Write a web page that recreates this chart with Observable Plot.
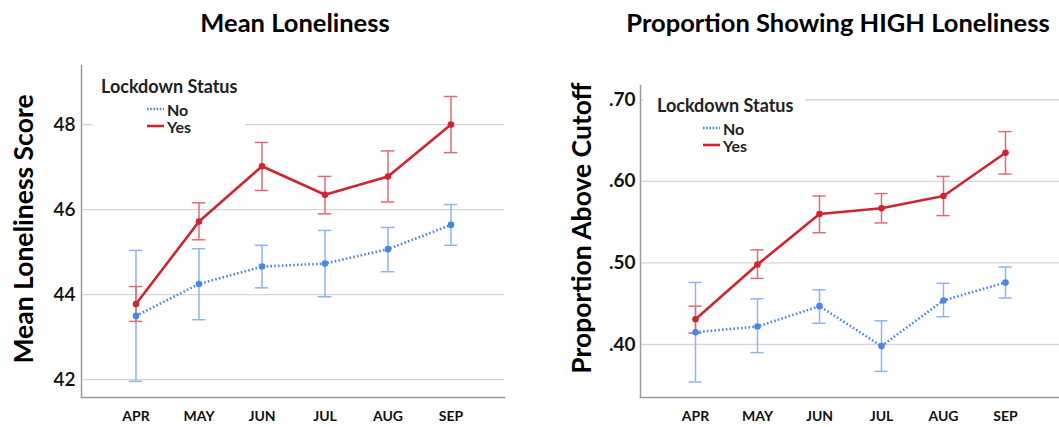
<!DOCTYPE html>
<html><head><meta charset="utf-8">
<script src="https://cdn.jsdelivr.net/npm/d3@7"></script>
<script src="https://cdn.jsdelivr.net/npm/@observablehq/plot@0.6"></script>
<style>
body{margin:0;background:#fff;font-family:Lato,sans-serif;}
#wrap{position:relative;width:1059px;height:427px;overflow:hidden;background:#fff;}
.abs{position:absolute;}
.title{font-weight:700;font-size:25.5px;color:#000;white-space:nowrap;transform:translate(-50%,-50%);}
.ylab{font-weight:700;font-size:26.5px;color:#000;white-space:nowrap;transform:translate(-50%,-50%) rotate(-90deg);}
.legend{background:#fff;font-weight:700;color:#222;}
.legend .lt{position:absolute;font-size:18px;white-space:nowrap;transform:translateY(-50%);}
.legend .le{position:absolute;font-size:16px;white-space:nowrap;transform:translateY(-50%);}
.legend svg{position:absolute;overflow:visible;}
</style></head><body><div id="wrap"></div>
<script>
// ---- data ----
const months = ["APR","MAY","JUN","JUL","AUG","SEP"];
const statuses = ["No","Yes"];

// Mean Loneliness Score
const meanNo   = [43.50, 44.25, 44.66, 44.73, 45.07, 45.64];
const meanNoLo = [41.96, 43.41, 44.16, 43.95, 44.54, 45.16];
const meanNoHi = [45.04, 45.08, 45.16, 45.51, 45.58, 46.12];
const meanYes   = [43.78, 45.72, 47.02, 46.35, 46.78, 48.00];
const meanYesLo = [43.37, 45.29, 46.45, 45.90, 46.18, 47.34];
const meanYesHi = [44.19, 46.16, 47.58, 46.78, 47.38, 48.66];
const meanTicks = [42, 44, 46, 48];

// Proportion above cutoff
const propNo   = [0.415, 0.422, 0.447, 0.398, 0.454, 0.476];
const propNoLo = [0.354, 0.390, 0.426, 0.367, 0.434, 0.457];
const propNoHi = [0.476, 0.456, 0.467, 0.429, 0.475, 0.495];
const propYes   = [0.431, 0.498, 0.560, 0.567, 0.582, 0.635];
const propYesLo = [0.414, 0.481, 0.537, 0.549, 0.558, 0.609];
const propYesHi = [0.447, 0.516, 0.582, 0.585, 0.606, 0.661];
const propTicks = [0.40, 0.50, 0.60, 0.70];

const titles = ["Mean Loneliness", "Proportion Showing HIGH Loneliness"];
const yLabels = ["Mean Loneliness Score", "Proportion Above Cutoff"];
const legendTitle = "Lockdown Status";

const colors = {No: "#4a86e6", Yes: "#cf2530"};
const errColors = {No: "#8db5f0", Yes: "#e26a76"};

function rowsOf(no, noLo, noHi, yes, yesLo, yesHi) {
  const r = [];
  months.forEach((m, i) => {
    r.push({month: m, status: "No", value: no[i], lo: noLo[i], hi: noHi[i]});
    r.push({month: m, status: "Yes", value: yes[i], lo: yesLo[i], hi: yesHi[i]});
  });
  return r;
}
const meanRows = rowsOf(meanNo, meanNoLo, meanNoHi, meanYes, meanYesLo, meanYesHi);
const propRows = rowsOf(propNo, propNoLo, propNoHi, propYes, propYesLo, propYesHi);

const outerPad = 0.33; // band scale, inner padding 0
const capWidth = 14;

function panel(rows, o) {
  const innerW = o.width - o.ml - o.mr;
  const step = innerW / (months.length + 2 * outerPad);
  const capInset = (step - capWidth) / 2;
  const marks = [
    Plot.gridY(o.ticks, {stroke: "#d6d6d6", strokeOpacity: 1, strokeWidth: 1.3}),
    Plot.axisY(o.ticks, {tickSize: 0, tickPadding: o.tickPad, fontSize: 19, fontWeight: o.tickWeight, tickFormat: o.fmt, label: null}),
    Plot.axisX({tickSize: 0, tickPadding: 14, fontSize: 14, fontWeight: 700, label: null}),
    Plot.frame({anchor: "left", stroke: "#9a9a9a", strokeWidth: 1.5}),
    Plot.frame({anchor: "bottom", stroke: "#9a9a9a", strokeWidth: 1.5})
  ];
  for (const s of statuses) {
    const d = rows.filter(r => r.status === s);
    marks.push(
      Plot.ruleX(d, {x: "month", y1: "lo", y2: "hi", stroke: errColors[s], strokeWidth: 1.5}),
      Plot.tickY(d, {x: "month", y: "lo", insetLeft: capInset, insetRight: capInset, stroke: errColors[s], strokeWidth: 1.5}),
      Plot.tickY(d, {x: "month", y: "hi", insetLeft: capInset, insetRight: capInset, stroke: errColors[s], strokeWidth: 1.5})
    );
  }
  for (const s of statuses) {
    const d = rows.filter(r => r.status === s);
    marks.push(
      Plot.line(d, {x: "month", y: "value", stroke: colors[s], strokeWidth: 2.6,
        strokeDasharray: s === "No" ? "1.6,2.2" : null, strokeLinecap: "butt"}),
      Plot.dot(d, {x: "month", y: "value", fill: colors[s], r: 3.3})
    );
  }
  return Plot.plot({
    width: o.width, height: o.height,
    marginLeft: o.ml, marginRight: o.mr, marginTop: o.mt, marginBottom: o.mb,
    style: {fontFamily: "Lato, sans-serif", background: "transparent", color: "#111", overflow: "visible"},
    x: {type: "band", domain: months, paddingInner: 0, paddingOuter: outerPad},
    y: {domain: o.domain},
    marks
  });
}

const wrap = document.getElementById("wrap");
function place(el, left, top) { el.classList.add("abs"); el.style.left = left + "px"; el.style.top = top + "px"; wrap.appendChild(el); return el; }

// left panel
const p1 = panel(meanRows, {width: 530, height: 377, ml: 81, mr: 26, mt: 15, mb: 30,
  domain: [41.58, 49.39], ticks: meanTicks, fmt: d3.format("d"), tickPad: 6, tickWeight: 600});
place(p1, 0, 50);
// right panel
const fmtProp = d => d3.format(".2f")(d).replace(/^0/, "");
const p2 = panel(propRows, {width: 529, height: 377, ml: 110, mr: 0, mt: 35, mb: 30,
  domain: [0.335, 0.7175], ticks: propTicks, fmt: fmtProp, tickPad: 5, tickWeight: 700});
place(p2, 530, 50);

// titles
function addDiv(cls, text, x, y) { const d = document.createElement("div"); d.className = cls; d.textContent = text; return place(d, x, y); }
addDiv("title", titles[0], 295, 22);
addDiv("title", titles[1], 838, 22);
addDiv("ylab", yLabels[0], 23, 229);
addDiv("ylab", yLabels[1], 581, 228);

// legends
function legend(left, top, w, h, titleX, titleY, swX, rowY) {
  const L = document.createElement("div");
  L.className = "legend";
  L.style.width = w + "px"; L.style.height = h + "px";
  place(L, left, top);
  const t = document.createElement("div"); t.className = "lt"; t.textContent = legendTitle;
  t.style.left = titleX + "px"; t.style.top = titleY + "px"; L.appendChild(t);
  statuses.forEach((s, i) => {
    const ns = "http://www.w3.org/2000/svg";
    const svg = document.createElementNS(ns, "svg");
    svg.setAttribute("width", 18); svg.setAttribute("height", 4);
    svg.style.left = swX + "px"; svg.style.top = (rowY[i] - 2) + "px";
    const ln = document.createElementNS(ns, "line");
    ln.setAttribute("x1", 0); ln.setAttribute("x2", 17); ln.setAttribute("y1", 2); ln.setAttribute("y2", 2);
    ln.setAttribute("stroke", colors[s]); ln.setAttribute("stroke-width", 2.6);
    if (s === "No") ln.setAttribute("stroke-dasharray", "1.6,1.6");
    svg.appendChild(ln); L.appendChild(svg);
    const e = document.createElement("div"); e.className = "le"; e.textContent = s;
    e.style.left = (swX + 20) + "px"; e.style.top = rowY[i] + "px"; L.appendChild(e);
  });
}
legend(93, 72, 152, 64, 8, 14, 54, [37, 54]);
legend(643, 90, 162, 64, 14, 15, 60, [38, 55]);
</script>
</body></html>
